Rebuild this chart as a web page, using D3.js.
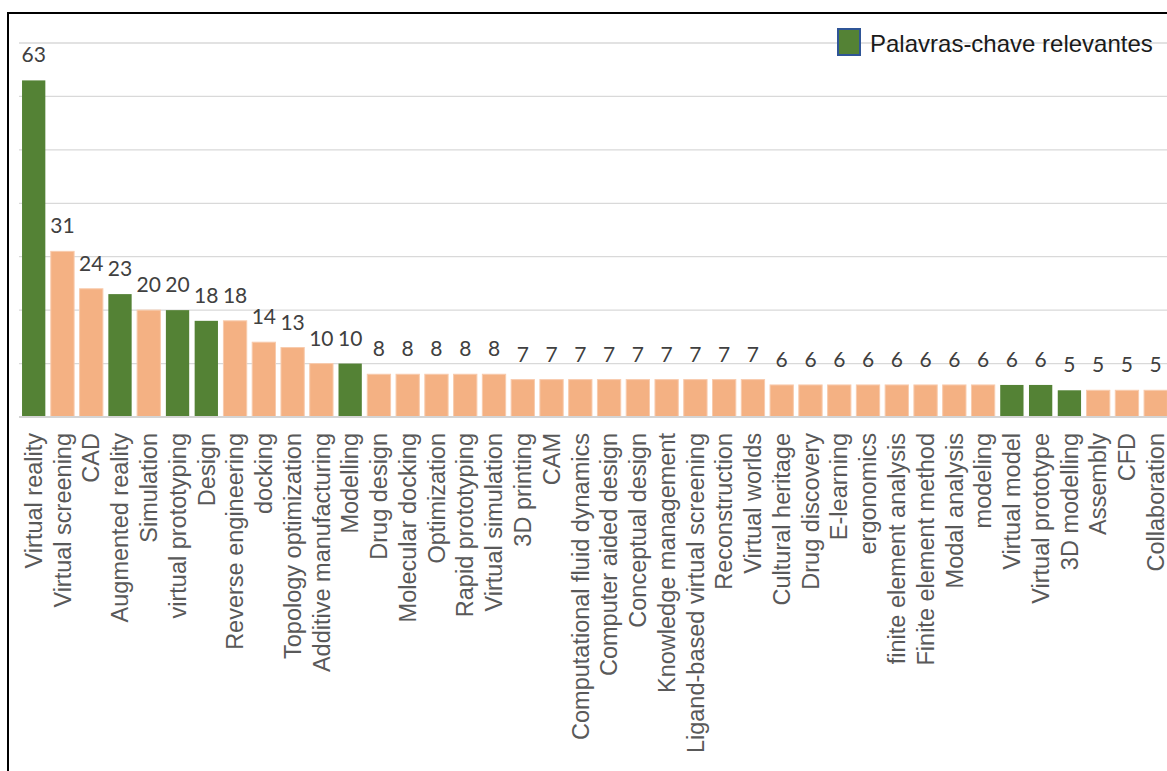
<!DOCTYPE html>
<html>
<head>
<meta charset="utf-8">
<script src="https://cdn.jsdelivr.net/npm/d3@7"></script>
<style>
  body { margin: 0; background: #fff; }
  #chart { width: 1167px; height: 771px; overflow: hidden; }
</style>
</head>
<body>
<div id="chart"></div>
<script>
const keywords = ["Virtual reality", "Virtual screening", "CAD", "Augmented reality", "Simulation",
    "virtual prototyping", "Design", "Reverse engineering", "docking", "Topology optimization",
    "Additive manufacturing", "Modelling", "Drug design", "Molecular docking", "Optimization",
    "Rapid prototyping", "Virtual simulation", "3D printing", "CAM", "Computational fluid dynamics",
    "Computer aided design", "Conceptual design", "Knowledge management", "Ligand-based virtual screening",
    "Reconstruction", "Virtual worlds", "Cultural heritage", "Drug discovery", "E-learning", "ergonomics",
    "finite element analysis", "Finite element method", "Modal analysis", "modeling", "Virtual model",
    "Virtual prototype", "3D modelling", "Assembly", "CFD", "Collaboration"];

const counts = [63, 31, 24, 23, 20, 20, 18, 18, 14, 13, 10, 10, 8, 8, 8, 8, 8, 7, 7, 7,
    7, 7, 7, 7, 7, 7, 6, 6, 6, 6, 6, 6, 6, 6, 6, 6, 5, 5, 5, 5];

// keywords flagged as relevant (green)
const relevant = ["Virtual reality", "Augmented reality", "virtual prototyping", "Design",
    "Modelling", "Virtual model", "Virtual prototype", "3D modelling"];

const gridTicks = [0, 10, 20, 30, 40, 50, 60, 70];
const legendLabel = "Palavras-chave relevantes";

const data = keywords.map((k, i) => ({name: k, value: counts[i], rel: relevant.includes(k)}));

const width = 1167, height = 771;
const baseY = 417, topY = 43;

const svg = d3.select("#chart")
    .append("svg")
    .attr("width", width)
    .attr("height", height);

const x = d3.scaleBand()
    .domain(keywords)
    .range([19.3, 19.3 + 40 * 28.77])
    .paddingInner(0.19)
    .paddingOuter(0.095);

const y = d3.scaleLinear()
    .domain([0, 70])
    .range([baseY, topY]);

// gridlines
svg.selectAll(".grid")
    .data(gridTicks.filter(d => d > 0))
    .enter()
    .append("line")
    .attr("class", "grid")
    .attr("x1", 19)
    .attr("x2", width)
    .attr("y1", d => y(d))
    .attr("y2", d => y(d))
    .attr("stroke", "#d9d9d9")
    .attr("stroke-width", 1.3);

// bars
svg.selectAll(".bar")
    .data(data)
    .enter()
    .append("rect")
    .attr("class", "bar")
    .attr("x", d => x(d.name))
    .attr("width", x.bandwidth())
    .attr("y", d => y(d.value))
    .attr("height", d => y(0) - y(d.value))
    .attr("fill", d => d.rel ? "#548235" : "#f4b183")
    .attr("stroke", d => d.rel ? "none" : "#f8cbad")
    .attr("stroke-width", 1);

// baseline
svg.append("line")
    .attr("x1", 19)
    .attr("x2", width)
    .attr("y1", y(0))
    .attr("y2", y(0))
    .attr("stroke", "#d4d4d4")
    .attr("stroke-width", 2);

// value labels
svg.selectAll(".val")
    .data(data)
    .enter()
    .append("text")
    .attr("class", "val")
    .attr("x", d => x(d.name) + x.bandwidth() / 2)
    .attr("y", d => y(d.value) - 18)
    .attr("text-anchor", "middle")
    .attr("font-family", "Lato, 'Open Sans', sans-serif")
    .attr("font-size", 21)
    .attr("fill", "#404040")
    .text(d => d.value);

// category labels (rotated)
svg.selectAll(".cat")
    .data(data)
    .enter()
    .append("text")
    .attr("class", "cat")
    .attr("transform", d => `translate(${x(d.name) + x.bandwidth() / 2},433) rotate(-90)`)
    .attr("dy", "0.35em")
    .attr("text-anchor", "end")
    .attr("font-family", "'Liberation Sans', Arial, sans-serif")
    .attr("font-size", 23.5)
    .attr("fill", "#595959")
    .text(d => d.name);

// legend
const legend = svg.append("g").attr("transform", "translate(838,29)");
legend.append("rect")
    .attr("width", 22)
    .attr("height", 26)
    .attr("fill", "#548235")
    .attr("stroke", "#2f5597")
    .attr("stroke-width", 2);
legend.append("text")
    .attr("x", 32)
    .attr("y", 22.5)
    .attr("font-family", "'Liberation Sans', Arial, sans-serif")
    .attr("font-size", 24)
    .attr("fill", "#1a1a1a")
    .text(legendLabel);

// frame
svg.append("path")
    .attr("d", `M8,${height} V13 H${width}`)
    .attr("fill", "none")
    .attr("stroke", "#000")
    .attr("stroke-width", 2);
</script>
</body>
</html>
